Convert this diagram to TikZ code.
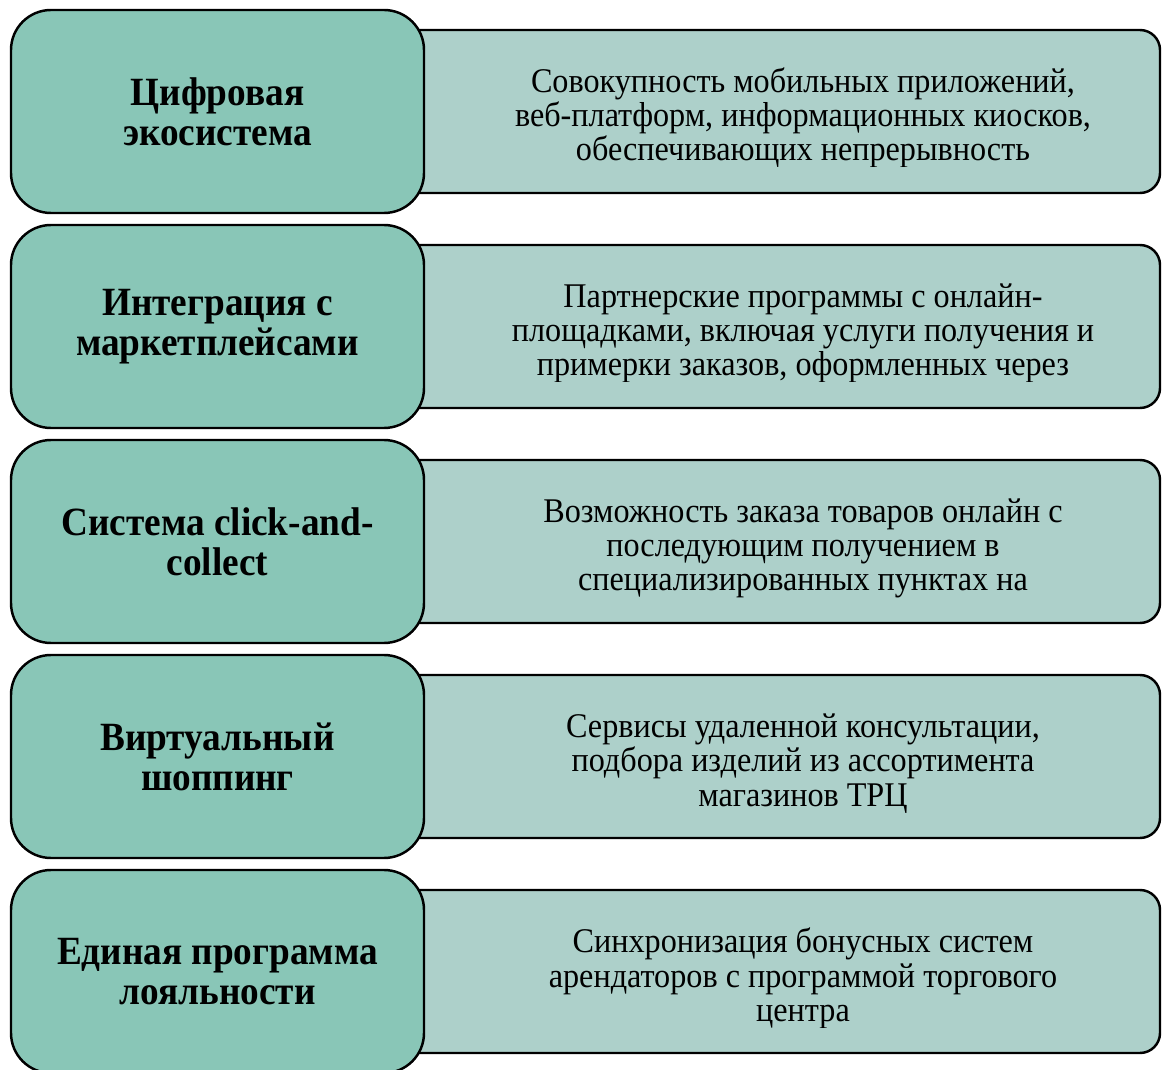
\documentclass[tikz,border=0pt]{standalone}
\usepackage{fontspec}
\setmainfont{Liberation Serif}[FakeStretch=0.93]
\usetikzlibrary{positioning}

\definecolor{headfill}{RGB}{137,198,183}
\definecolor{descfill}{RGB}{173,208,202}

\begin{document}
\begin{tikzpicture}[
    % Heading boxes on the left
    head/.style={
        draw,
        line width=1.4pt,
        rectangle,
        rounded corners=0.8cm,
        minimum width=8.26cm,
        minimum height=4.06cm,
        fill=headfill,
        outer sep=0pt,
        align=center,
        font=\bfseries\fontsize{22.8}{22.8}\selectfont
    },
    % Description boxes, their left part hides under the heading box
    desc/.style={
        draw,
        line width=1.4pt,
        rectangle,
        rounded corners=0.4cm,
        minimum width=15.3cm,
        minimum height=3.26cm,
        fill=descfill,
        outer sep=0pt
    },
    txt/.style={anchor=base, inner sep=0pt, align=center, font=\fontsize{19.7}{19.35}\selectfont}
]

    \useasboundingbox (0,0) rectangle (23.24,-21.4);

    % --- Description boxes ---
    \node[desc, anchor=west] (r1) at (7.9,-2.23) {};
    \node[desc, below=1.04cm of r1] (r2) {};
    \node[desc, below=1.04cm of r2] (r3) {};
    \node[desc, below=1.04cm of r3] (r4) {};
    \node[desc, below=1.04cm of r4] (r5) {};

    % --- Heading boxes ---
    \node[head, left=-0.58cm of r1] (l1) {Цифровая\\экосистема};
    \node[head, left=-0.58cm of r2] (l2) {Интеграция с\\маркетплейсами};
    \node[head, left=-0.58cm of r3] (l3) {Система click-and-\\collect};
    \node[head, left=-0.58cm of r4] (l4) {Виртуальный\\шоппинг};
    \node[head, left=-0.58cm of r5] (l5) {Единая программа\\лояльности};

    % --- Texts, cut off at the bottom as in the source ---
    % (base anchor sits on the last of the three lines)
    \begin{scope}
        \clip (r1.north west) rectangle ([yshift=-2.74cm]r1.north east);
        \node[txt] (t1) at ([xshift=0.51cm, yshift=-2.62cm]r1.north)
            {Совокупность мобильных приложений,\\веб-платформ, информационных киосков,\\обеспечивающих непрерывность};
    \end{scope}
    \begin{scope}
        \clip (r2.north west) rectangle ([yshift=-2.74cm]r2.north east);
        \node[txt] (t2) at ([xshift=0.51cm, yshift=-2.62cm]r2.north)
            {Партнерские программы с онлайн-\\площадками, включая услуги получения и\\примерки заказов, оформленных через};
    \end{scope}
    \begin{scope}
        \clip (r3.north west) rectangle ([yshift=-2.74cm]r3.north east);
        \node[txt] (t3) at ([xshift=0.51cm, yshift=-2.62cm]r3.north)
            {Возможность заказа товаров онлайн с\\последующим получением в\\специализированных пунктах на};
    \end{scope}
    \begin{scope}
        \clip (r4.north west) rectangle ([yshift=-2.74cm]r4.north east);
        \node[txt] (t4) at ([xshift=0.51cm, yshift=-2.62cm]r4.north)
            {Сервисы удаленной консультации,\\подбора изделий из ассортимента\\магазинов ТРЦ};
    \end{scope}
    \begin{scope}
        \clip (r5.north west) rectangle ([yshift=-2.74cm]r5.north east);
        \node[txt] (t5) at ([xshift=0.51cm, yshift=-2.62cm]r5.north)
            {Синхронизация бонусных систем\\арендаторов с программой торгового\\центра};
    \end{scope}

\end{tikzpicture}
\end{document}
